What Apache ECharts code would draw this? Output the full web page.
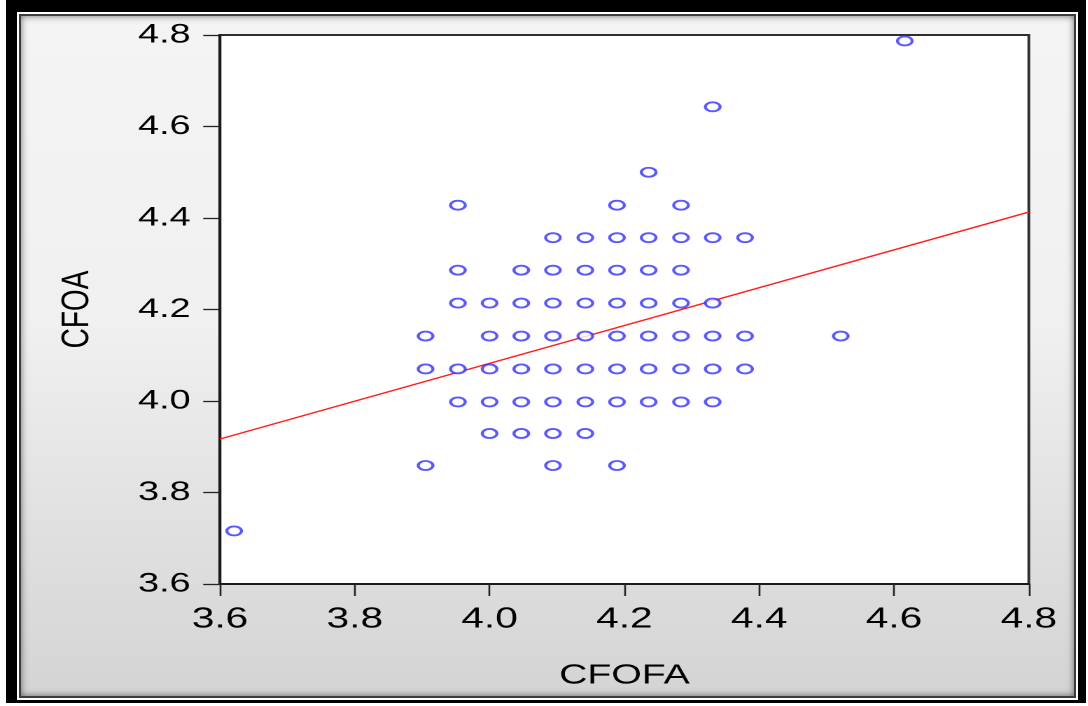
<!DOCTYPE html>
<html>
<head>
<meta charset="utf-8">
<script src="https://cdn.jsdelivr.net/npm/echarts@6/dist/echarts.min.js"></script>
<style>
  html, body { margin:0; padding:0; width:1088px; height:706px; background:#fff; overflow:hidden; }
  #outer { position:absolute; left:6px; top:0px; width:1080px; height:703px; background:#000; }
  #white { position:absolute; left:17px; top:12px; width:1061px; height:688px; background:#fff; }
  #dark { position:absolute; left:19px; top:14px; width:1057px; height:684px; background:#3c3c3c; }
  #panel { position:absolute; left:21px; top:16px; width:1053px; height:680px;
    background:linear-gradient(to bottom, #f4f4f4 0%, #f0f0f0 45%, #e0e0e0 75%, #d4d4d4 100%);
    box-shadow: inset 0 0 7px rgba(0,0,0,0.55); }
  #chart { position:absolute; left:0; top:0; width:777.14px; height:706px;
    transform:scaleX(1.4); transform-origin:0 0; }
</style>
</head>
<body>
<div id="outer"></div>
<div id="white"></div>
<div id="dark"></div>
<div id="panel"></div>
<div id="chart"></div>
<script>
// Axis ticks
const xTicks = [3.6, 3.8, 4.0, 4.2, 4.4, 4.6, 4.8];
const yTicks = [3.6, 3.8, 4.0, 4.2, 4.4, 4.6, 4.8];

// Scatter points
const cfofa = [
  4.616,
  4.331,
  4.236,
  3.953, 4.189, 4.284,
  4.094, 4.142, 4.189, 4.236, 4.284, 4.331, 4.379,
  3.953, 4.047, 4.094, 4.142, 4.189, 4.236, 4.284,
  3.953, 4.000, 4.047, 4.094, 4.142, 4.189, 4.236, 4.284, 4.331,
  3.905, 4.000, 4.047, 4.094, 4.142, 4.189, 4.236, 4.284, 4.331, 4.379, 4.521,
  3.905, 3.953, 4.000, 4.047, 4.094, 4.142, 4.189, 4.236, 4.284, 4.331, 4.379,
  3.953, 4.000, 4.047, 4.094, 4.142, 4.189, 4.236, 4.284, 4.331,
  4.000, 4.047, 4.094, 4.142,
  3.905, 4.094, 4.189,
  3.621
];
const cfoa = [
  4.787,
  4.643,
  4.500,
  4.428, 4.428, 4.428,
  4.357, 4.357, 4.357, 4.357, 4.357, 4.357, 4.357,
  4.286, 4.286, 4.286, 4.286, 4.286, 4.286, 4.286,
  4.214, 4.214, 4.214, 4.214, 4.214, 4.214, 4.214, 4.214, 4.214,
  4.142, 4.142, 4.142, 4.142, 4.142, 4.142, 4.142, 4.142, 4.142, 4.142, 4.142,
  4.070, 4.070, 4.070, 4.070, 4.070, 4.070, 4.070, 4.070, 4.070, 4.070, 4.070,
  3.998, 3.998, 3.998, 3.998, 3.998, 3.998, 3.998, 3.998, 3.998,
  3.929, 3.929, 3.929, 3.929,
  3.859, 3.859, 3.859,
  3.716
];

// Fitted regression line endpoints
const fitX = [3.6, 4.8];
const fitY = [3.917, 4.413];

const points = cfofa.map((x, i) => [x, cfoa[i]]);
const fitLine = fitX.map((x, i) => [x, fitY[i]]);

const chart = echarts.init(document.getElementById('chart'), null, { renderer: 'canvas', devicePixelRatio: 2 });
chart.setOption({
  backgroundColor: 'transparent',
  animation: false,
  grid: { left: 157.14, right: 42.14, top: 35, bottom: 122, show: true,
          backgroundColor: '#ffffff', borderColor: '#2e2e2e', borderWidth: 2 },
  xAxis: {
    type: 'value', min: xTicks[0], max: xTicks[xTicks.length - 1], interval: 0.2,
    name: 'CFOFA', nameLocation: 'middle', nameGap: 78,
    nameTextStyle: { color: '#000', fontSize: 28, fontFamily: 'Liberation Sans, Arial, sans-serif' },
    axisLine: { show: true, onZero: false, lineStyle: { color: '#1a1a1a', width: 2 } },
    axisTick: { show: true, inside: false, length: 12, lineStyle: { color: '#222', width: 1.3 } },
    axisLabel: { color: '#000', fontSize: 29, margin: 21,
      fontFamily: 'Liberation Sans, Arial, sans-serif',
      formatter: v => v.toFixed(1) },
    splitLine: { show: false }
  },
  yAxis: {
    type: 'value', min: yTicks[0], max: yTicks[yTicks.length - 1], interval: 0.2,
    name: 'CFOA', nameLocation: 'middle', nameGap: 88, nameRotate: 90,
    nameTextStyle: { color: '#000', fontSize: 28, fontFamily: 'Liberation Sans, Arial, sans-serif' },
    axisLine: { show: true, onZero: false, lineStyle: { color: '#1a1a1a', width: 2 } },
    axisTick: { show: true, inside: false, length: 12, lineStyle: { color: '#222', width: 1.3 } },
    axisLabel: { color: '#000', fontSize: 27, margin: 21,
      fontFamily: 'Liberation Sans, Arial, sans-serif',
      formatter: v => v.toFixed(1) },
    splitLine: { show: false }
  },
  series: [
    {
      type: 'line', data: fitLine, showSymbol: false, symbol: 'none',
      lineStyle: { color: '#ff2020', width: 1.4 }, z: 2, silent: true
    },
    {
      type: 'scatter', data: points, symbol: 'emptyCircle', symbolSize: [10.5, 9],
      itemStyle: { color: '#2f2fff', borderColor: '#2f2fff', borderWidth: 2 }, z: 3
    }
  ]
});
</script>
</body>
</html>
